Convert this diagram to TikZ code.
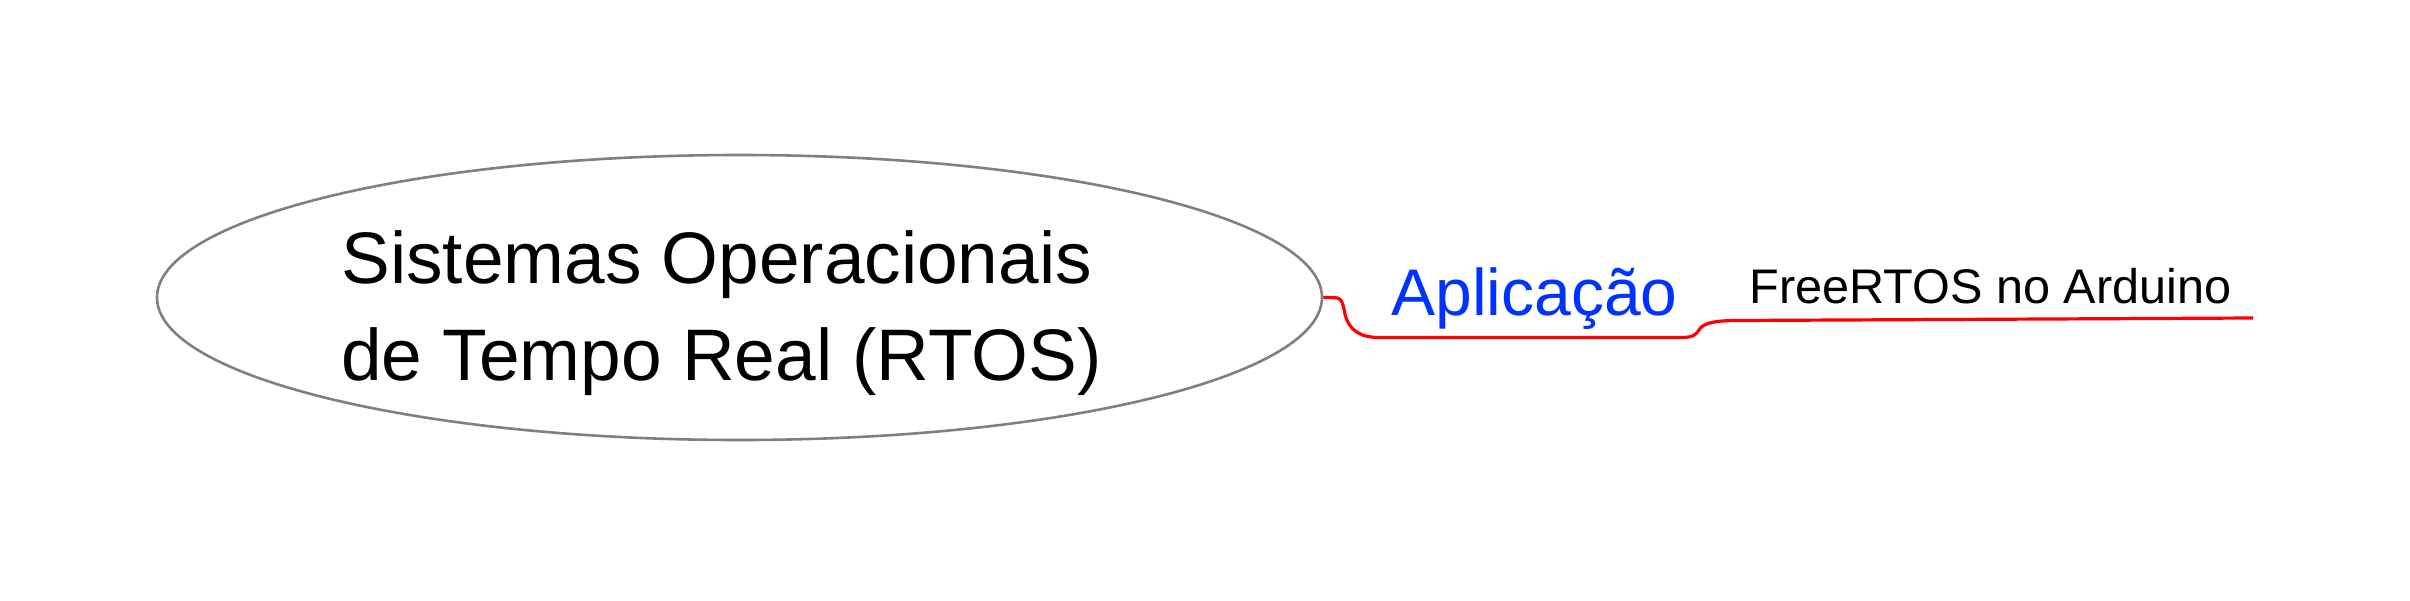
\documentclass[tikz,border=0pt]{standalone}
\usepackage{fontspec}
\setmainfont{Liberation Sans}
\usetikzlibrary{shapes.geometric,positioning,calc}
\usepackage{xcolor}
\definecolor{rim}{HTML}{808080}
\definecolor{branch}{HTML}{FF0000}
\definecolor{topic}{HTML}{0033FF}
\definecolor{ink}{HTML}{000000}
\tikzset{
  every node/.style={text=ink},
  central/.style={draw=rim,line width=1.3pt,ellipse,minimum width=582.5pt,minimum height=142.5pt,inner sep=0pt},
  maintext/.style={font=\fontsize{36.5}{48.5}\selectfont,align=left,inner sep=0pt},
  topictext/.style={font=\fontsize{33}{40}\selectfont,text=topic,inner sep=0pt,anchor=base west},
  subtext/.style={font=\fontsize{24.3}{28}\selectfont,inner sep=0pt,anchor=base west},
  link/.style={draw=branch,line width=1.6pt},
}
\begin{document}
\begin{tikzpicture}[x=0.5pt,y=-0.5pt]
\useasboundingbox (0,0) rectangle (2410,600);

% central topic
\node[central] (rtos) at (739.5,297.5) {};
\node[maintext,anchor=base west] (title) at (341,380) {Sistemas Operacionais\\de Tempo Real (RTOS)};

% branch labels
\node[topictext] (app) at (1391,315) {Aplicação};
\node[subtext] (free) at (1749,303) {FreeRTOS no Arduino};
\coordinate (end) at (2253,318);

% branch lines
\draw[link] (rtos.east) .. controls ++(18,0) and ++(-4,-20) .. ++(22,18)
  .. controls ++(4,14) and ++(-20,0) .. ++(34,22) -- ++(300,0)
  .. controls ++(14,0) and ++(-4,6) .. ++(20,-8)
  .. controls ++(4,-7) and ++(-20,0) .. ++(38,-9) -- (end);
\end{tikzpicture}
\end{document}
